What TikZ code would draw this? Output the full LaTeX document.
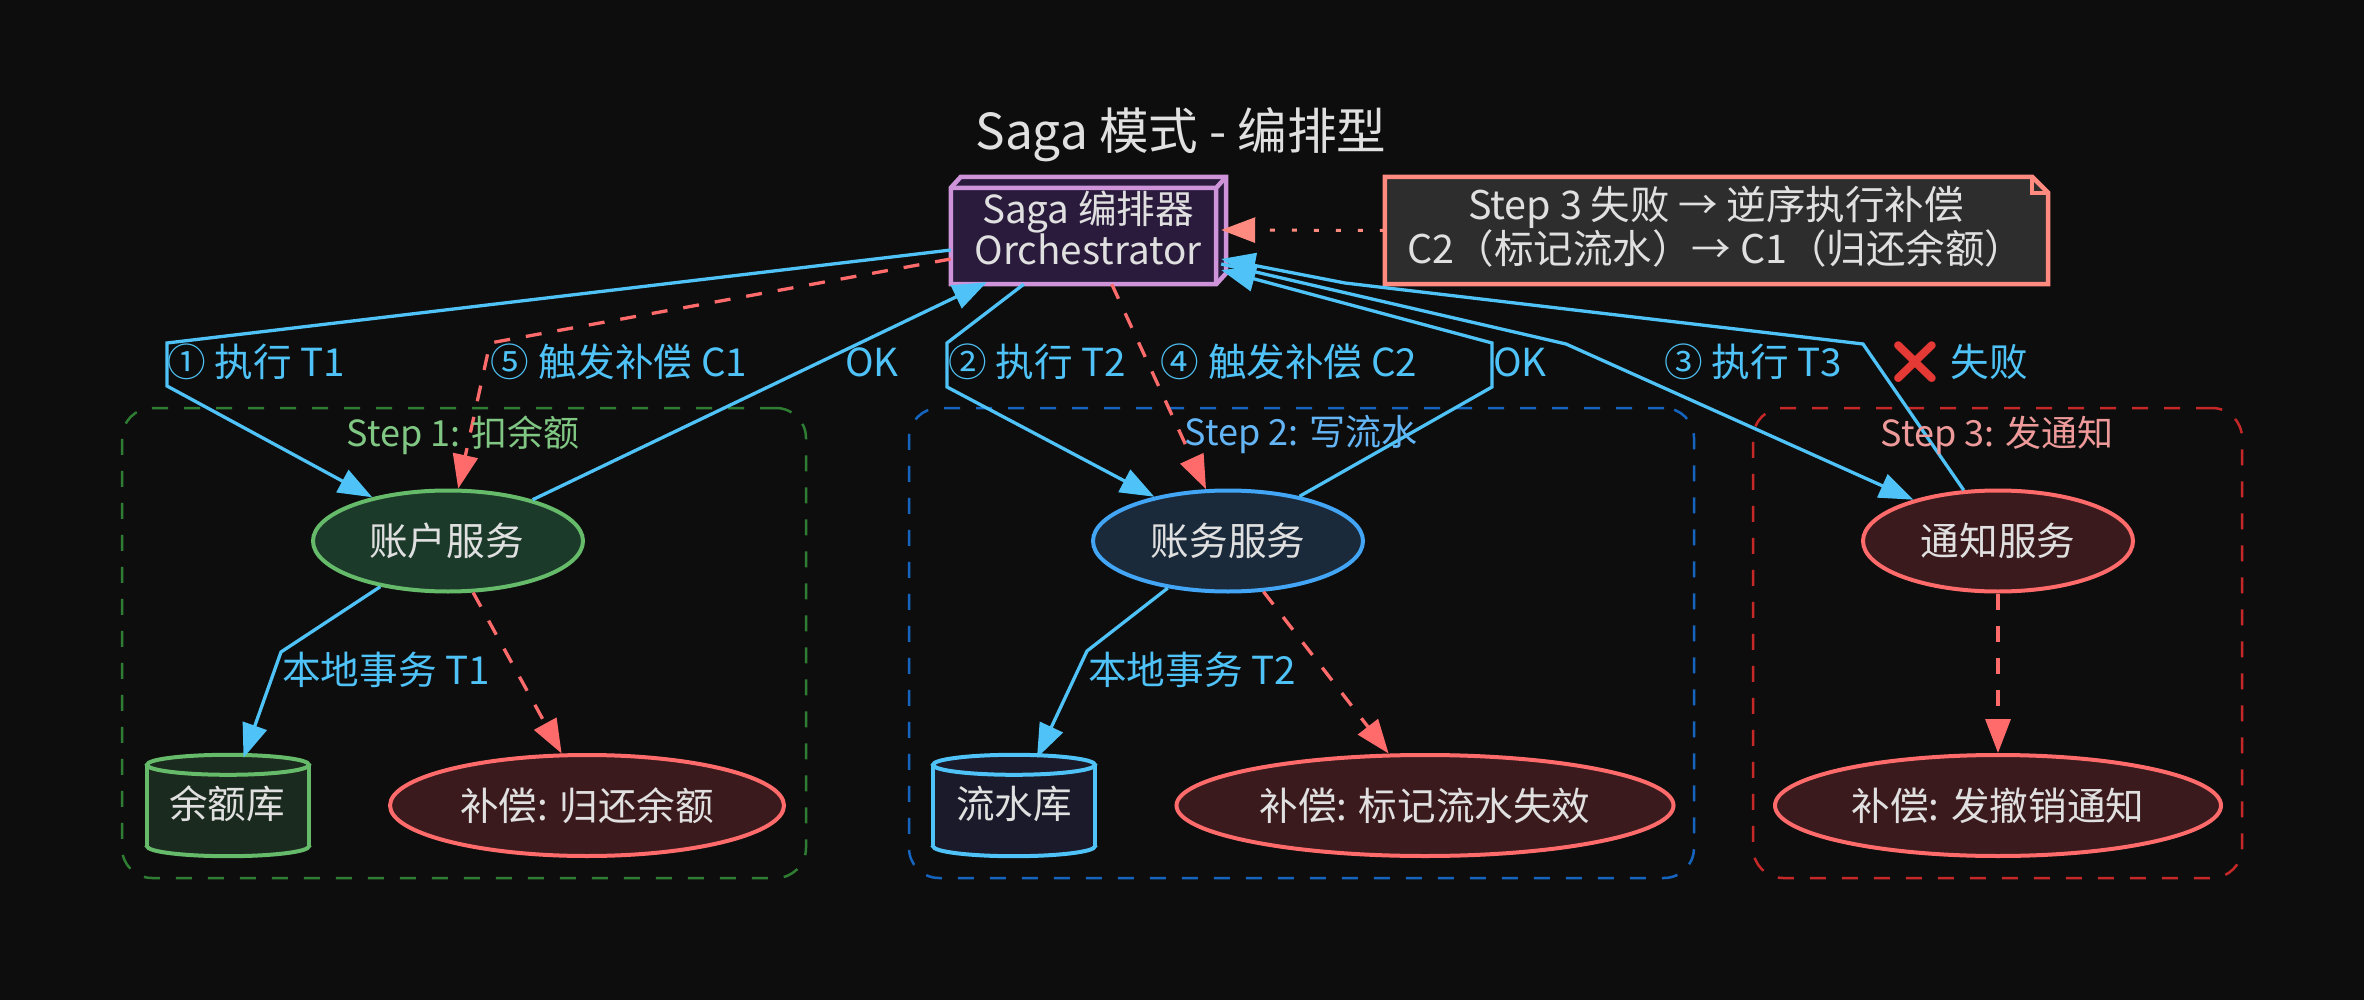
\documentclass[tikz,border=0pt]{standalone}
\usepackage{fontspec}
\setmainfont{Noto Sans CJK SC}
\newfontfamily\emojifont{Noto Emoji}
\usetikzlibrary{shapes.geometric,arrows.meta,calc}
\definecolor{bgc}{HTML}{0D0D0D}
\definecolor{txt}{HTML}{E0E0E0}
\definecolor{flowc}{HTML}{4FC3F7}
\definecolor{redc}{HTML}{FF6B6B}
\definecolor{notec}{HTML}{FF8A80}
\definecolor{notef}{HTML}{2D2D2D}
\definecolor{purc}{HTML}{CE93D8}
\definecolor{purf}{HTML}{2A1B3D}
\definecolor{grnc}{HTML}{66BB6A}
\definecolor{grnf}{HTML}{1B3A2A}
\definecolor{grnd}{HTML}{1B2A1E}
\definecolor{bluc}{HTML}{42A5F5}
\definecolor{bluf}{HTML}{1A2A3A}
\definecolor{blud}{HTML}{1A1A2A}
\definecolor{redf}{HTML}{3B1A1D}
\definecolor{cg}{HTML}{2E7D32}
\definecolor{cb}{HTML}{1565C0}
\definecolor{cr}{HTML}{C62828}
\definecolor{tg}{HTML}{81C784}
\definecolor{tb}{HTML}{64B5F6}
\definecolor{tr}{HTML}{EF9A9A}
\definecolor{xred}{HTML}{E53935}
\newcommand{\dbshape}[3]{%
  \draw[draw=#2,fill=#3,line width=4pt] ($(#1.south)+(0,-10)$) ellipse [x radius=81pt,y radius=10pt];
  \fill[#3] ($(#1.north west)+(0,10)$) rectangle ($(#1.south east)+(0,-10)$);
  \draw[draw=#2,line width=4pt] ($(#1.north west)+(0,10)$) -- ($(#1.south west)+(0,-10)$) ($(#1.north east)+(0,10)$) -- ($(#1.south east)+(0,-10)$);
  \draw[draw=#2,fill=#3,line width=4pt] ($(#1.north)+(0,10)$) ellipse [x radius=81pt,y radius=10pt];
}
\tikzset{
  clusterbox/.style={rectangle,draw=#1,line width=2.5pt,rounded corners=30pt,dash pattern=on 16pt off 16pt,inner sep=0pt},
  clustertitle/.style={text=#1,font=\fontsize{36}{42}\selectfont,inner sep=0pt},
  svc/.style n args={2}{ellipse,draw=#1,fill=#2,line width=4pt,minimum width=270pt,minimum height=101pt,inner sep=0pt,text=txt,font=\fontsize{38.6}{44}\selectfont},
  comp/.style={ellipse,draw=redc,fill=redf,line width=4pt,minimum height=101pt,inner sep=0pt,text=txt,font=\fontsize{38.6}{44}\selectfont},
  dbframe/.style={rectangle,inner sep=0pt,minimum width=162pt,minimum height=101pt},
  dbtext/.style={text=txt,inner sep=0pt,font=\fontsize{38.6}{44}\selectfont},
  flowline/.style={draw=flowc,line width=3.3pt,-{Triangle[length=34pt,width=25pt]}},
  compline/.style={draw=redc,line width=3.3pt,dash pattern=on 16pt off 16pt,-{Triangle[length=34pt,width=25pt]}},
  edgetext/.style={text=flowc,inner sep=0pt,font=\fontsize{38.6}{44}\selectfont},
  boxtext/.style={text=txt,inner sep=0pt,align=center,font=\fontsize{38.6}{41.5}\selectfont},
  notetext/.style={text=txt,inner sep=0pt,align=center,font=\fontsize{39.5}{41.5}\selectfont},
}
\begin{document}
\begin{tikzpicture}[x=1pt,y=-1pt]
\useasboundingbox (0,0) rectangle (2364,1000);
\fill[bgc] (0,0) rectangle (2364,1000);
% clusters
\node[clusterbox=cg,minimum width=684pt,minimum height=470pt] (c1) at (464,643) {};
\node[clusterbox=cb,minimum width=785pt,minimum height=470pt] (c2) at (1301.5,643) {};
\node[clusterbox=cr,minimum width=489pt,minimum height=470pt] (c3) at (1997.5,643) {};
% title
\node[text=txt,inner sep=0pt,font=\fontsize{49.6}{56}\selectfont] (title) at (1181,135) {Saga 模式 - 编排型};
% orchestrator
\node[rectangle,inner sep=0pt,minimum width=265pt,minimum height=96pt] (orch) at (1083.5,236) {};
\draw[draw=purc,fill=purf,line width=4.5pt,line join=miter]
  (orch.north west) -- (orch.south west) -- (orch.south east) -- ($(orch.south east)+(10,-11)$) -- ($(orch.north east)+(10,-11)$) -- ($(orch.north west)+(10,-11)$) -- cycle;
\draw[draw=purc,line width=4.5pt] (orch.north west) -- (orch.north east) -- (orch.south east) (orch.north east) -- ($(orch.north east)+(10,-11)$);
\node[boxtext] (orchlabel) at (1088,228) {Saga 编排器\\Orchestrator};
% note
\node[rectangle,inner sep=0pt,minimum width=663pt,minimum height=107pt] (notebox) at (1716.5,230.5) {};
\draw[draw=notec,fill=notef,line width=4.5pt,line join=miter]
  (notebox.north west) -- ($(notebox.north east)+(-16,0)$) -- ($(notebox.north east)+(0,16)$) -- (notebox.south east) -- (notebox.south west) -- cycle;
\draw[draw=notec,line width=4.5pt] ($(notebox.north east)+(-16,0)$) -- ($(notebox.north east)+(-16,16)$) -- ($(notebox.north east)+(0,16)$);
\node[notetext] (notelabel) at (1716,227) {Step 3 失败 → 逆序执行补偿\\C2（标记流水）→ C1（归还余额）};
% services
\node[svc={grnc}{grnf}] (acct) at (448,541) {\hspace{-3pt}账户服务};
\node[svc={bluc}{bluf}] (ledg) at (1228,541) {账务服务};
\node[svc={redc}{redf}] (noti) at (1998,541) {通知服务};
\node[dbframe] (db1) at (228,805.5) {};
\dbshape{db1}{grnc}{grnd}
\node[dbtext] (db1label) at (227,804) {余额库};
\node[dbframe] (db2) at (1014,805.5) {};
\dbshape{db2}{flowc}{blud}
\node[dbtext] (db2label) at (1014,804) {流水库};
\node[comp,minimum width=394pt] (comp1) at (587,805.5) {补偿: 归还余额};
\node[comp,minimum width=497pt] (comp2) at (1425,805.5) {补偿: 标记流水失效};
\node[comp,minimum width=446pt] (comp3) at (1998,805.5) {补偿: 发撤销通知};
% bends
\coordinate (a1) at (167,343); \coordinate (a2) at (167,386);
\coordinate (e1) at (490,343);
\coordinate (b1) at (947,343); \coordinate (b2) at (947,387);
\coordinate (k1) at (1492,387); \coordinate (k2) at (1492,343);
\coordinate (t1) at (1566,344);
\coordinate (f1) at (1863,344); \coordinate (f2) at (1345,283);
\coordinate (l1) at (281,652); \coordinate (l2) at (1087,651);
% connectors
\draw[flowline] ($(orch.west)+(0,14)$) -- (a1) -- (a2) -- (acct.150.9);
\draw[compline] ($(orch.west)+(0,23)$) -- (e1) -- (acct.79);
\draw[flowline] (acct.26.9) -- ($(orch.south west)+(36,-2)$);
\draw[flowline] ($(orch.south west)+(73,0)$) -- (b1) -- (b2) -- (ledg.149.6);
\draw[compline] ($(orch.south west)+(161,0)$) -- (ledg.113.5);
\draw[flowline] (ledg.32.2) -- (k1) -- (k2) -- ($(orch.east)+(5,34)$);
\draw[flowline] ($(orch.east)+(5,28)$) -- (t1) -- (noti.154.3);
\draw[flowline] (noti.124.5) -- (f1) -- (f2) -- ($(orch.east)+(5,23)$);
\draw[flowline] (acct.214.3) -- (l1) -- ($(db1.north)+(15.5,3)$);
\draw[compline] (acct.-64) -- (comp1.116.3);
\draw[flowline] (ledg.218.4) -- (l2) -- ($(db2.north)+(23,3)$);
\draw[compline] (ledg.-55) -- (comp2.125);
\draw[compline] (noti.south) -- (comp3.north);
\draw[draw=notec,line width=3pt,dash pattern=on 5pt off 17pt,-{Triangle[length=34pt,width=25pt]}] (notebox.west) -- ($(orch.east)+(5,-6)$);
% labels
\node[edgetext] (le1) at (256,362) {① 执行 T1};
\node[edgetext] (le5) at (619,362) {⑤ 触发补偿 C1};
\node[edgetext] (lok1) at (872,362) {OK};
\node[edgetext] (le2) at (1037,362) {② 执行 T2};
\node[edgetext] (le4) at (1289,362) {④ 触发补偿 C2};
\node[edgetext] (lok2) at (1520,362) {OK};
\node[edgetext] (le3) at (1753,362) {③ 执行 T3};
\node[edgetext] (lfail) at (1958,362) {{\emojifont\fontsize{42}{44}\selectfont\color{xred}❌} 失败};
\node[edgetext] (ll1) at (386,670) {本地事务 T1};
\node[edgetext] (ll2) at (1192,670) {本地事务 T2};
\node[clustertitle=tg] (ct1) at (463,435) {Step 1: 扣余额};
\node[clustertitle=tb] (ct2) at (1301,435) {Step 2: 写流水};
\node[clustertitle=tr] (ct3) at (1997,435) {Step 3: 发通知};
\end{tikzpicture}
\end{document}
